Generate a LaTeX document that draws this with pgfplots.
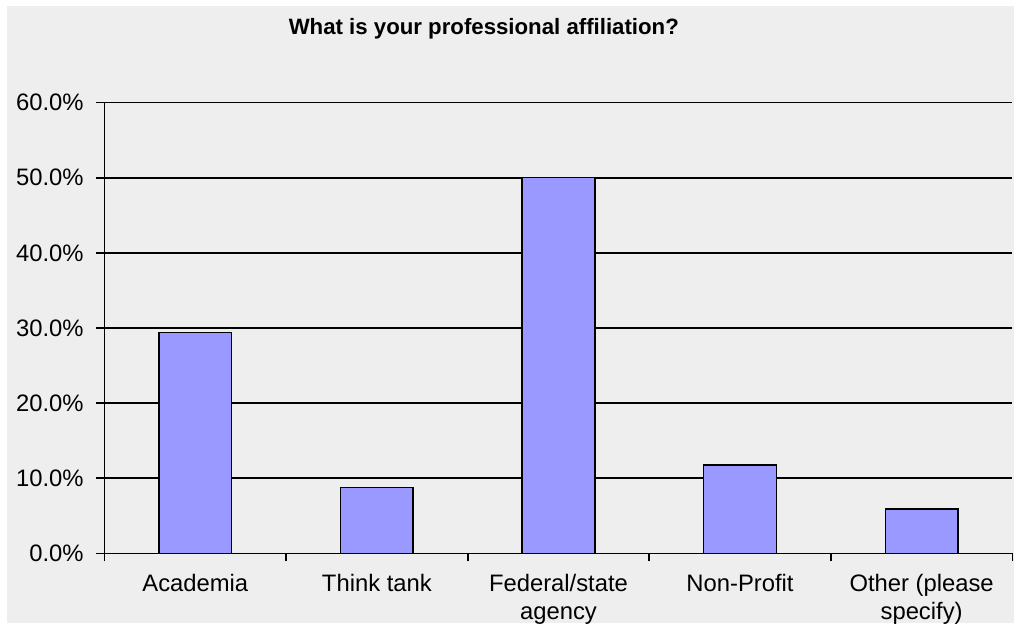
\documentclass[border=0pt]{standalone}
\usepackage{fontspec}
\setmainfont{Liberation Sans}
\usepackage{pgfplots}
\pgfplotsset{compat=1.18}
\definecolor{barblue}{HTML}{9999FF}
\definecolor{bg}{HTML}{EEEEEE}
\begin{document}
\begin{tikzpicture}[x=0.5bp,y=0.5bp]
% background, in pixel units of the reference
\fill[white] (0,0) rectangle (1019,626);
\fill[bg] (7,0) rectangle (1019,620);
\node[font=\fontsize{11.2}{13}\selectfont\bfseries] at (486,597) {What is your professional affiliation?};
\begin{axis}[
    at={(52.5bp,35bp)}, anchor=south west,
    scale only axis, width=456bp, height=226.5bp,
    xmin=-0.5, xmax=4.5, ymin=0, ymax=60,
    axis x line=bottom, axis y line=left,
    axis line style={-, black, line width=0.9bp},
    ytick={0,10,...,60},
    ymajorgrids, grid style={black, line width=0.9bp},
    tick align=outside, major tick length=4.5bp,
    tick style={black, line width=0.9bp},
    /pgf/number format/assume math mode=true,
    yticklabel={\pgfmathprintnumber[fixed,fixed zerofill,precision=1]{\tick}\%},
    y tick label style={font=\fontsize{12}{14}\selectfont, xshift=-2.5bp},
    xtick={0,...,4},
    xtick style={draw=none},
    xticklabels={Academia, Think tank, Federal/state\\agency, Non-Profit, Other (please\\specify)},
    x tick label style={font=\fontsize{12}{13.8}\selectfont, align=center, anchor=north, yshift=-2.5bp},
    extra x ticks={-0.5,0.5,1.5,2.5,3.5,4.5},
    extra x tick labels={},
    extra x tick style={xtick style={draw=black, line width=0.9bp}, major tick length=4bp, grid=none},
]
\addplot[ybar, bar width=36.5bp, fill=barblue, draw=black, line width=0.75bp]
    coordinates {(0,29.4) (1,8.8) (2,50.0) (3,11.8) (4,5.9)};
\end{axis}
\end{tikzpicture}
\end{document}
